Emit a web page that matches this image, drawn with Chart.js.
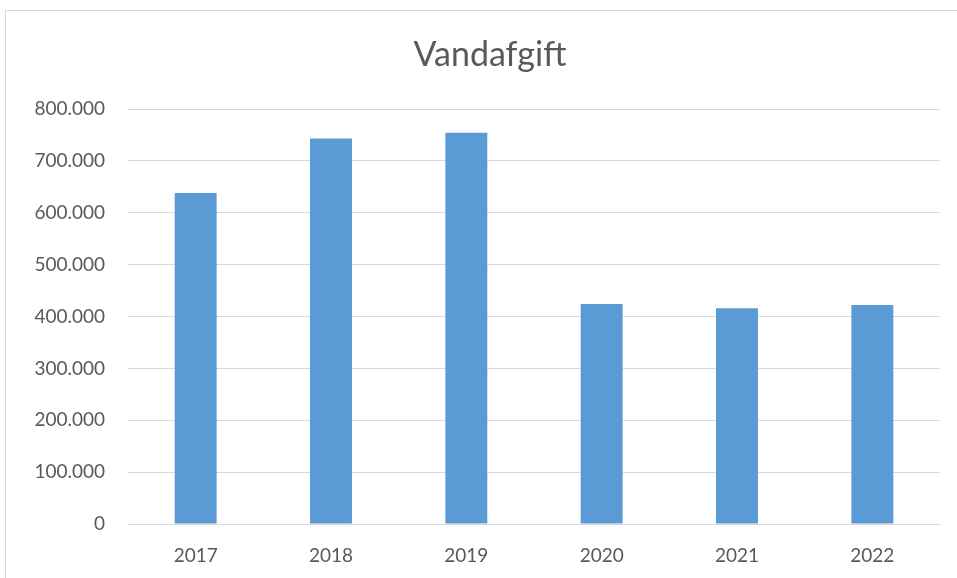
<!DOCTYPE html>
<html>
<head>
<meta charset="utf-8">
<script src="https://cdn.jsdelivr.net/npm/chart.js@4/dist/chart.umd.min.js"></script>
<style>
  html, body { margin: 0; padding: 0; background: #fff; }
  #wrap { position: relative; width: 957px; height: 578px; overflow: hidden; }
  #frame { position: absolute; left: 5px; top: 10px; width: 1000px; height: 700px; border: 1px solid #d9d9d9; box-sizing: border-box; }
  canvas { position: absolute; left: 0; top: 0; }
</style>
</head>
<body>
<div id="wrap">
  <div id="frame"></div>
  <canvas id="c" width="957" height="578"></canvas>
</div>
<script>
const chartTitle = "Vandafgift";
const categories = ["2017", "2018", "2019", "2020", "2021", "2022"];
const values = [638000, 743000, 754000, 424000, 416000, 422000];
const yMin = 0, yMax = 800000, yStep = 100000;

function fmt(v) {
  return String(Math.round(v)).replace(/\B(?=(\d{3})+(?!\d))/g, ".");
}

const titlePlugin = {
  id: 'fixedTitle',
  afterDraw(chart) {
    const ctx = chart.ctx;
    ctx.save();
    ctx.font = '34px Lato, "Open Sans", sans-serif';
    ctx.fillStyle = '#595959';
    ctx.textAlign = 'center';
    ctx.textBaseline = 'alphabetic';
    ctx.fillText(chartTitle, 490, 66);
    ctx.restore();
  }
};

new Chart(document.getElementById('c'), {
  type: 'bar',
  data: {
    labels: categories,
    datasets: [{
      data: values,
      backgroundColor: '#5b9bd5',
      borderWidth: 0,
      categoryPercentage: 1,
      barPercentage: 0.31
    }]
  },
  options: {
    responsive: false,
    animation: false,
    layout: { padding: { left: 0, right: 17, top: 109, bottom: 0 } },
    plugins: { legend: { display: false }, title: { display: false }, tooltip: { enabled: false } },
    scales: {
      x: {
        grid: { display: false, drawTicks: false },
        border: { display: true, color: '#d9d9d9', width: 1 },
        ticks: { color: '#595959', font: { family: 'Lato, "Open Sans", sans-serif', size: 19 }, padding: 20 },
        afterFit(scale) { scale.height = 54; }
      },
      y: {
        min: yMin, max: yMax,
        grid: { color: '#d9d9d9', lineWidth: 1, drawTicks: false },
        border: { display: false },
        ticks: { stepSize: yStep, color: '#595959', font: { family: 'Lato, "Open Sans", sans-serif', size: 19 }, padding: 23, callback: (v) => fmt(v) },
        afterFit(scale) { scale.width = 128; }
      }
    }
  },
  plugins: [titlePlugin]
});
</script>
</body>
</html>
